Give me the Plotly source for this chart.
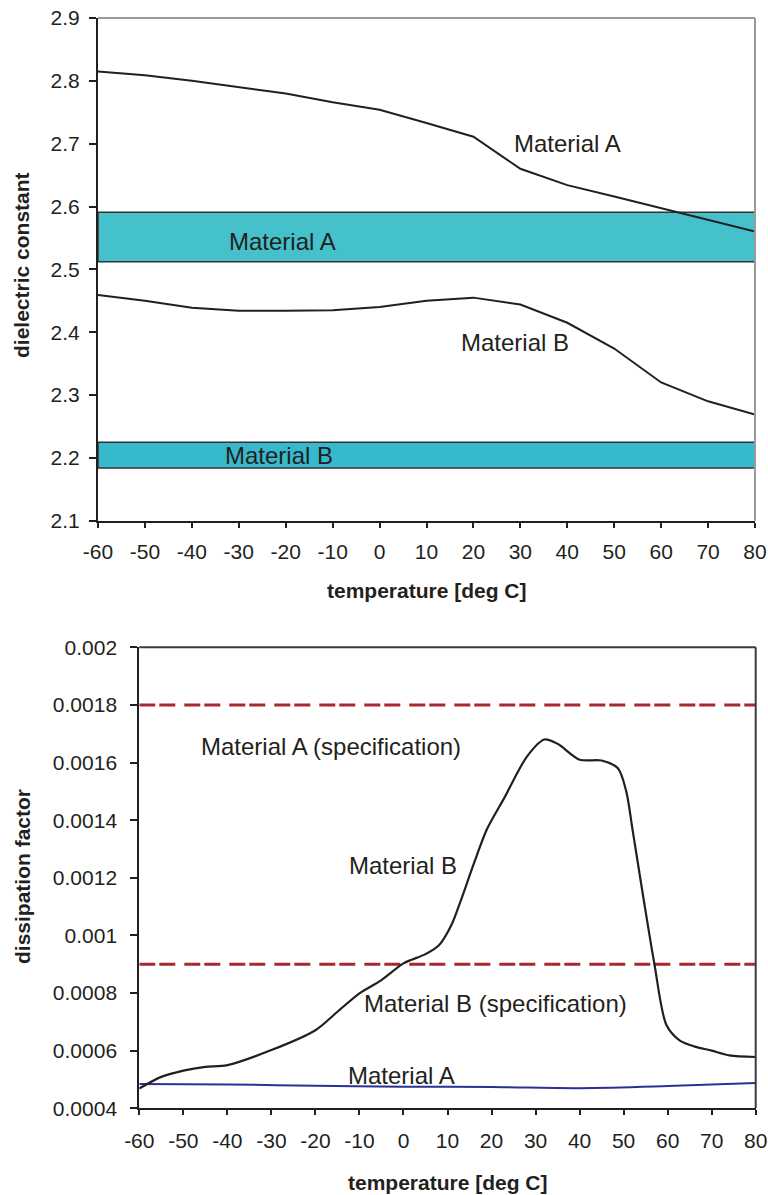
import plotly.graph_objects as go

# ---- data -------------------------------------------------------------
temps = [-60, -50, -40, -30, -20, -10, 0, 10, 20, 30, 40, 50, 60, 70, 80]
x_ticks = [-60, -50, -40, -30, -20, -10, 0, 10, 20, 30, 40, 50, 60, 70, 80]
x_tick_text = ["-60", "-50", "-40", "-30", "-20", "-10", "0", "10", "20",
               "30", "40", "50", "60", "70", "80"]

# dielectric constant vs temperature
eps_a = [2.815, 2.809, 2.800, 2.790, 2.780, 2.766, 2.754, 2.733, 2.711,
         2.660, 2.634, 2.616, 2.597, 2.578, 2.560]
eps_b = [2.459, 2.450, 2.439, 2.434, 2.434, 2.435, 2.440, 2.450, 2.455,
         2.444, 2.415, 2.374, 2.320, 2.290, 2.269]

# specification bands for the dielectric constant (low, high)
spec_eps_a = [2.512, 2.591]
spec_eps_b = [2.184, 2.225]

eps_ticks = [2.1, 2.2, 2.3, 2.4, 2.5, 2.6, 2.7, 2.8, 2.9]

# dissipation factor vs temperature
df_temp_b = [-60, -55, -50, -45, -40, -30, -20, -15, -10, -5, 0, 5, 8, 11,
             13, 16, 19, 23, 28, 32, 35, 40, 45, 48.7, 50.6, 52, 54.5,
             57, 59.7, 62.7, 66, 70, 74, 80]
df_b = [0.000469, 0.000509, 0.000531, 0.000544, 0.000550, 0.000602,
        0.000671, 0.000735, 0.000799, 0.000845, 0.000903, 0.000935,
        0.000965, 0.00104, 0.00112, 0.00125, 0.00137, 0.00148, 0.00162,
        0.00168, 0.001665, 0.00161, 0.001607, 0.00158, 0.00150, 0.00137,
        0.00113, 0.00090, 0.00069, 0.000636, 0.000615, 0.000600,
        0.000584, 0.000578]
df_temp_a = [-60, -40, -20, 0, 20, 40, 60, 80]
df_a = [0.000484, 0.000483, 0.000478, 0.000475, 0.000474, 0.000470,
        0.000477, 0.000488]

# dissipation factor specification limits
spec_df_a = 0.0018
spec_df_b = 0.0009

df_ticks = [0.0004, 0.0006, 0.0008, 0.001, 0.0012, 0.0014, 0.0016,
            0.0018, 0.002]
df_tick_text = ["0.0004", "0.0006", "0.0008", "0.001", "0.0012", "0.0014",
                "0.0016", "0.0018", "0.002"]

# ---- styling ----------------------------------------------------------
FONT = "Liberation Sans, Arial, Helvetica, sans-serif"
INK = "#231f20"
TICK_SIZE = 21
LABEL_SIZE = 24
TITLE_SIZE = 21
W, H = 768, 1195

t_lo, t_hi = min(temps), max(temps)

fig = go.Figure()

# top panel: specification bands
for lo_hi, color in ((spec_eps_a, "#45c1cb"), (spec_eps_b, "#37b9cd")):
    lo, hi = lo_hi
    fig.add_trace(go.Scatter(
        x=[t_lo, t_hi, t_hi, t_lo, t_lo], y=[lo, lo, hi, hi, lo],
        mode="lines", fill="toself", fillcolor=color,
        line=dict(color="#333333", width=1.5),
        xaxis="x", yaxis="y", hoverinfo="skip", showlegend=False))

# top panel: measured curves
for ys in (eps_a, eps_b):
    fig.add_trace(go.Scatter(
        x=temps, y=ys, mode="lines", line=dict(color=INK, width=2),
        xaxis="x", yaxis="y", showlegend=False))

# bottom panel: specification limits
for lim in (spec_df_a, spec_df_b):
    fig.add_trace(go.Scatter(
        x=[t_lo, t_hi], y=[lim, lim], mode="lines",
        line=dict(color="#a8282e", width=3, dash="16px,4px,16px,9px"),
        xaxis="x2", yaxis="y2", showlegend=False))

# bottom panel: measured curves
fig.add_trace(go.Scatter(
    x=df_temp_a, y=df_a, mode="lines",
    line=dict(color="#2b3192", width=2, shape="spline"),
    xaxis="x2", yaxis="y2", showlegend=False))
fig.add_trace(go.Scatter(
    x=df_temp_b, y=df_b, mode="lines",
    line=dict(color=INK, width=2.2, shape="spline", smoothing=0.8),
    xaxis="x2", yaxis="y2", showlegend=False))

# ---- axes -------------------------------------------------------------
top_x = [98 / W, 755 / W]
top_y = [1 - 520.7 / H, 1 - 18 / H]
bot_x = [139.3 / W, 755.7 / W]
bot_y = [1 - 1108.3 / H, 1 - 647.3 / H]

tickfont = dict(family=FONT, size=TICK_SIZE, color=INK)


def x_axis(domain, anchor, standoff):
    return dict(domain=domain, anchor=anchor, range=[t_lo, t_hi],
                tickvals=x_ticks, ticktext=x_tick_text, ticks="outside",
                ticklen=5, tickwidth=1.5, tickcolor=INK, showline=True,
                linecolor=INK, linewidth=2, showgrid=False, zeroline=False,
                tickfont=tickfont, fixedrange=True, automargin=False,
                ticklabelstandoff=standoff)


def x_inner(over, anchor, domain):
    return dict(domain=domain, overlaying=over, anchor=anchor,
                range=[t_lo, t_hi], tickvals=x_ticks, ticks="inside",
                ticklen=5, tickwidth=1.5, tickcolor=INK,
                showticklabels=False, showline=False, showgrid=False,
                zeroline=False, automargin=False)


def y_axis(domain, anchor, rng, vals, standoff, text=None, fmt=None):
    d = dict(domain=domain, anchor=anchor, range=rng, tickvals=vals,
             ticks="outside", ticklen=7, tickwidth=1.5, tickcolor=INK,
             showline=True, linecolor=INK, linewidth=2, showgrid=False,
             zeroline=False, tickfont=tickfont, fixedrange=True,
             automargin=False, ticklabelstandoff=standoff)
    if text is not None:
        d["ticktext"] = text
    if fmt is not None:
        d["tickformat"] = fmt
    return d


fig.update_layout(
    width=W, height=H,
    margin=dict(l=0, r=0, t=0, b=0, autoexpand=False),
    paper_bgcolor="white", plot_bgcolor="white",
    font=dict(family=FONT, color=INK),
    xaxis=x_axis(top_x, "y", 6),
    yaxis=y_axis(top_y, "x", [2.1, 2.9], eps_ticks, 5, fmt=".1f"),
    xaxis2=x_axis(bot_x, "y2", 7),
    yaxis2=y_axis(bot_y, "x2", [0.0004, 0.002], df_ticks, 9,
                  text=df_tick_text),
    xaxis3=x_inner("x", "y", top_x),
    xaxis4=x_inner("x2", "y2", bot_x),
)

# frame on the top and right sides of each panel
for xr, yr, col in (("x", "y", "#9a9a9a"), ("x2", "y2", "#3a3a3a")):
    for x0, y0, x1, y1 in ((0, 1, 1, 1), (1, 0, 1, 1)):
        fig.add_shape(type="line", xref=f"{xr} domain", yref=f"{yr} domain",
                      x0=x0, y0=y0, x1=x1, y1=y1,
                      line=dict(color=col, width=2), layer="above")

# ---- text labels ------------------------------------------------------
lab = dict(family=FONT, size=LABEL_SIZE, color=INK)
labels = [
    ("x", "y", -20.6, 2.544, "Material A"),
    ("x", "y", -21.4, 2.203, "Material B"),
    ("x", "y", 40.0, 2.701, "Material A"),
    ("x", "y", 28.9, 2.383, "Material B"),
    ("x2", "y2", -16.4, 0.001655, "Material A (specification)"),
    ("x2", "y2", 0.0, 0.001244, "Material B"),
    ("x2", "y2", 20.9, 0.000764, "Material B (specification)"),
    ("x2", "y2", -0.5, 0.000515, "Material A"),
]
for xr, yr, xv, yv, txt in labels:
    fig.add_annotation(x=xv, y=yv, xref=xr, yref=yr, text=txt,
                       showarrow=False, font=lab,
                       xanchor="center", yanchor="middle")

# axis titles
ttl = dict(family=FONT, size=TITLE_SIZE, color=INK)
titles = [
    ((98 + 755) / 2, 590, 0, "<b>temperature [deg C]</b>"),
    ((139.3 + 755.7) / 2, 1182, 0, "<b>temperature [deg C]</b>"),
    (22, 265, -90, "<b>dielectric constant</b>"),
    (22, 877, -90, "<b>dissipation factor</b>"),
]
for px, py, ang, txt in titles:
    fig.add_annotation(x=px / W, y=1 - py / H, xref="paper", yref="paper",
                       text=txt, textangle=ang, showarrow=False, font=ttl,
                       xanchor="center", yanchor="middle")

fig.write_html("out.html")
